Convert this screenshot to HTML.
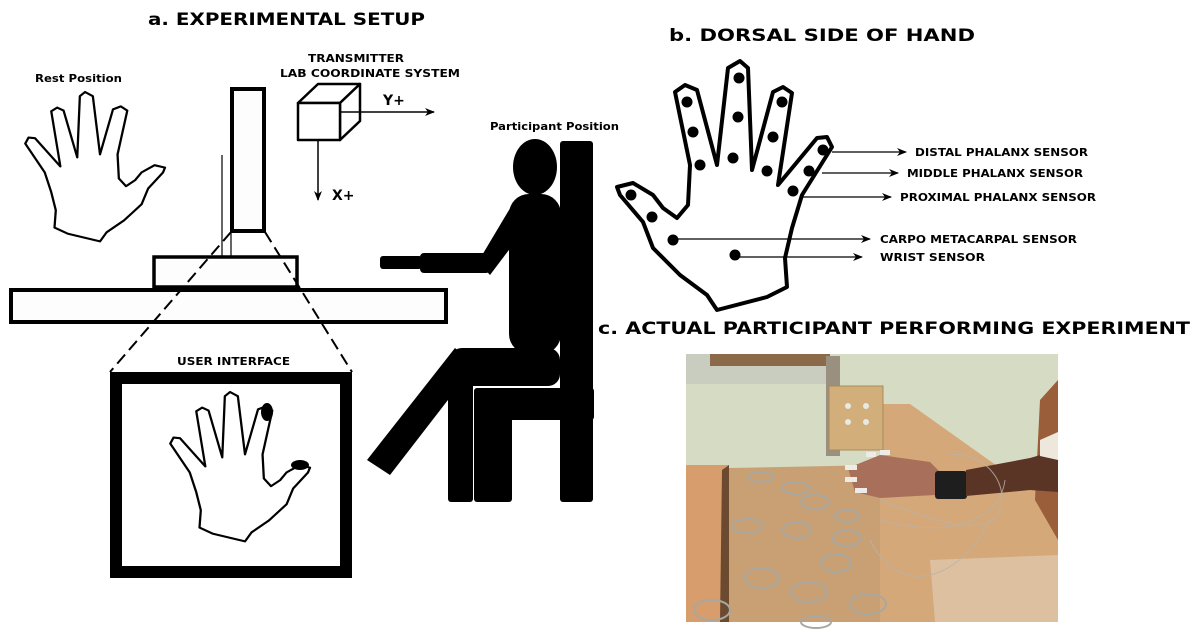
<!DOCTYPE html>
<html><head><meta charset="utf-8"><style>
html,body{margin:0;padding:0;background:#fff}
svg{display:block}
text{font-family:"DejaVu Sans","Liberation Sans",sans-serif;font-weight:bold;fill:#000}
</style></head><body>
<svg width="1200" height="632" viewBox="0 0 1200 632" xmlns="http://www.w3.org/2000/svg">
<defs>
<marker id="ah" markerWidth="10" markerHeight="8" refX="9" refY="4" orient="auto" markerUnits="userSpaceOnUse">
<path d="M0,0 L10,4 L0,8 L3,4 Z" fill="#000"/></marker>
<path id="hand" d="M617,187 L633,183 L653,195 L663,208 L677,218 L688,205 L690,165 L675,92 L685,85 L697,90 L717,165 L728,68 L740,61 L748,68 L752,170 L773,92 L783,87 L792,93 L778,185 L817,138 L827,137 L832,147 L802,195 L792,228 L785,258 L787,287 L767,297 L717,310 L707,295 L680,275 L653,248 L643,222 L620,195 Z"/>
</defs>

<text x="148" y="25" font-size="17" textLength="277" lengthAdjust="spacingAndGlyphs">a.  EXPERIMENTAL SETUP</text>
<text x="669" y="41" font-size="17" textLength="306" lengthAdjust="spacingAndGlyphs">b.  DORSAL SIDE OF HAND</text>
<text x="598" y="334" font-size="17" textLength="592" lengthAdjust="spacingAndGlyphs">c.  ACTUAL PARTICIPANT PERFORMING EXPERIMENT</text>

<text x="35" y="82" font-size="11" textLength="87" lengthAdjust="spacingAndGlyphs">Rest Position</text>
<use href="#hand" transform="translate(165,92) scale(-0.65,0.6) translate(-617,-61)" fill="none" stroke="#000" stroke-width="3.5" stroke-linejoin="round"/>

<text x="308" y="62" font-size="11" textLength="96" lengthAdjust="spacingAndGlyphs">TRANSMITTER</text>
<text x="280" y="77" font-size="11" textLength="180" lengthAdjust="spacingAndGlyphs">LAB COORDINATE SYSTEM</text>
<g fill="#fff" stroke="#000" stroke-width="2.5" stroke-linejoin="round">
<path d="M298,103 L318,84 L360,84 L340,103 Z"/>
<path d="M340,103 L360,84 L360,121 L340,140 Z"/>
<rect x="298" y="103" width="42" height="37"/>
</g>
<line x1="340" y1="112" x2="434" y2="112" stroke="#000" stroke-width="1.5" marker-end="url(#ah)"/>
<text x="383" y="105" font-size="14">Y+</text>
<line x1="318" y1="140" x2="318" y2="200" stroke="#000" stroke-width="1.5" marker-end="url(#ah)"/>
<text x="332" y="200" font-size="14">X+</text>

<rect x="232" y="89" width="32" height="142" fill="#fdfdfd" stroke="#000" stroke-width="4"/>
<line x1="222" y1="155" x2="222" y2="256" stroke="#000" stroke-width="1.2"/>
<line x1="231" y1="231" x2="231" y2="256" stroke="#000" stroke-width="1.2"/>
<rect x="154" y="257" width="143" height="30" fill="#fdfdfd" stroke="#000" stroke-width="3.5"/>
<rect x="11" y="290" width="435" height="32" fill="#fdfdfd" stroke="#000" stroke-width="4"/>
<line x1="231" y1="232" x2="110" y2="372" stroke="#000" stroke-width="2" stroke-dasharray="12,6"/>
<line x1="265" y1="232" x2="352" y2="372" stroke="#000" stroke-width="2" stroke-dasharray="12,6"/>
<text x="177" y="365" font-size="11" textLength="113" lengthAdjust="spacingAndGlyphs">USER INTERFACE</text>
<rect x="116" y="378" width="230" height="194" fill="#fff" stroke="#000" stroke-width="12"/>
<use href="#hand" transform="translate(310,392) scale(-0.65,0.6) translate(-617,-61)" fill="none" stroke="#000" stroke-width="3.5" stroke-linejoin="round"/>
<ellipse cx="267" cy="412" rx="6" ry="9" fill="#000"/>
<ellipse cx="300" cy="465" rx="9" ry="5" fill="#000"/>

<text x="490" y="130" font-size="11" textLength="129" lengthAdjust="spacingAndGlyphs">Participant Position</text>
<g fill="#000">
<ellipse cx="535" cy="167" rx="22" ry="28"/>
<rect x="560" y="141" width="33" height="361" rx="3"/>
<rect x="509" y="194" width="52" height="160" rx="20"/>
<path d="M512,205 L530,222 L490,275 L478,262 Z"/>
<rect x="420" y="253" width="70" height="20" rx="4"/>
<rect x="380" y="256" width="42" height="13" rx="3"/>
<rect x="450" y="348" width="110" height="38" rx="12"/>
<path d="M455,348 L475,365 L390,475 L367,460 Z"/>
<rect x="448" y="375" width="25" height="127" rx="3"/>
<rect x="474" y="388" width="120" height="32" rx="3"/>
<rect x="474" y="415" width="38" height="87" rx="3"/>
</g>

<use href="#hand" fill="none" stroke="#000" stroke-width="4" stroke-linejoin="round"/>
<g fill="#000">
<circle cx="631" cy="195" r="5.5"/><circle cx="652" cy="217" r="5.5"/><circle cx="673" cy="240" r="5.5"/>
<circle cx="735" cy="255" r="5.5"/><circle cx="700" cy="165" r="5.5"/><circle cx="693" cy="132" r="5.5"/>
<circle cx="687" cy="102" r="5.5"/><circle cx="733" cy="158" r="5.5"/><circle cx="738" cy="117" r="5.5"/>
<circle cx="739" cy="78" r="5.5"/><circle cx="767" cy="171" r="5.5"/><circle cx="773" cy="137" r="5.5"/>
<circle cx="782" cy="102" r="5.5"/><circle cx="793" cy="191" r="5.5"/><circle cx="809" cy="171" r="5.5"/>
<circle cx="823" cy="150" r="5.5"/>
</g>
<g stroke="#000" stroke-width="1.3">
<line x1="832" y1="152" x2="906" y2="152" marker-end="url(#ah)"/>
<line x1="822" y1="173" x2="898" y2="173" marker-end="url(#ah)"/>
<line x1="803" y1="197" x2="891" y2="197" marker-end="url(#ah)"/>
<line x1="673" y1="239" x2="870" y2="239" marker-end="url(#ah)"/>
<line x1="735" y1="257" x2="862" y2="257" marker-end="url(#ah)"/>
</g>
<text x="915" y="156" font-size="11" textLength="173" lengthAdjust="spacingAndGlyphs">DISTAL PHALANX SENSOR</text>
<text x="907" y="177" font-size="11" textLength="176" lengthAdjust="spacingAndGlyphs">MIDDLE PHALANX SENSOR</text>
<text x="900" y="201" font-size="11" textLength="196" lengthAdjust="spacingAndGlyphs">PROXIMAL PHALANX SENSOR</text>
<text x="880" y="243" font-size="11" textLength="197" lengthAdjust="spacingAndGlyphs">CARPO METACARPAL SENSOR</text>
<text x="880" y="261" font-size="11" textLength="105" lengthAdjust="spacingAndGlyphs">WRIST SENSOR</text>

<!-- photo -->
<rect x="686" y="354" width="372" height="268" fill="#cfa578"/>
<rect x="686" y="354" width="372" height="114" fill="#d6dcc4"/>
<rect x="686" y="354" width="140" height="30" fill="#c9cdc0"/>
<rect x="710" y="354" width="120" height="12" fill="#8a6a48"/>
<path d="M880,404 L910,404 L1000,468 L1058,470 L1058,622 L880,622 Z" fill="#d4a878"/>
<path d="M1040,400 L1058,380 L1058,540 L1035,500 Z" fill="#9a5e3a"/>
<path d="M686,465 L729,465 L729,622 L686,622 Z" fill="#d79d6c"/>
<path d="M722,470 L729,465 L729,622 L720,622 Z" fill="#6b4a30"/>
<path d="M729,468 L880,465 L880,622 L729,622 Z" fill="#c9a074"/>
<path d="M930,560 L1058,555 L1058,622 L935,622 Z" fill="#dcc0a0"/>
<rect x="826" y="356" width="14" height="100" fill="#9a9080"/>
<rect x="829" y="386" width="54" height="64" fill="#d2ae7a" stroke="#a88a5c" stroke-width="1"/>
<g fill="#e8e8e4"><circle cx="848" cy="406" r="3"/><circle cx="866" cy="406" r="3"/><circle cx="848" cy="422" r="3"/><circle cx="866" cy="422" r="3"/></g>
<path d="M848,468 L880,455 L930,462 L940,472 L935,495 L880,498 L855,492 Z" fill="#a8705a"/>
<g fill="#eeeae6"><rect x="845" y="465" width="12" height="5"/><rect x="845" y="477" width="12" height="5"/><rect x="855" y="488" width="12" height="5"/><rect x="866" y="452" width="10" height="5"/><rect x="880" y="450" width="10" height="5"/></g>
<rect x="935" y="471" width="32" height="28" rx="3" fill="#1e1e1e"/>
<path d="M966,470 L1030,458 L1058,450 L1058,492 L1030,490 L966,496 Z" fill="#5a3424"/>
<path d="M1040,440 L1058,432 L1058,460 L1040,456 Z" fill="#eee8dc"/>
<g fill="none" stroke="#a8a8a0" stroke-width="2">
<ellipse cx="761" cy="477" rx="12" ry="5"/><ellipse cx="796" cy="488" rx="14" ry="6"/><ellipse cx="815" cy="502" rx="14" ry="7"/>
<ellipse cx="847" cy="516" rx="12" ry="6"/><ellipse cx="747" cy="526" rx="15" ry="7"/><ellipse cx="797" cy="530" rx="14" ry="8"/>
<ellipse cx="847" cy="538" rx="14" ry="8"/><ellipse cx="836" cy="563" rx="15" ry="9"/><ellipse cx="762" cy="578" rx="17" ry="10"/>
<ellipse cx="809" cy="592" rx="18" ry="10"/><ellipse cx="868" cy="604" rx="18" ry="10"/><ellipse cx="712" cy="610" rx="18" ry="10"/>
<ellipse cx="816" cy="622" rx="15" ry="6"/>
</g>
<g fill="none" stroke="#b8b4ac" stroke-width="1" opacity="0.8">
<path d="M880,500 C930,520 990,540 1000,510 C1010,480 980,450 950,455"/>
<path d="M880,520 C950,540 1000,520 1005,480"/>
<path d="M870,540 C900,600 960,580 990,520"/>
</g>
</svg>
</body></html>
